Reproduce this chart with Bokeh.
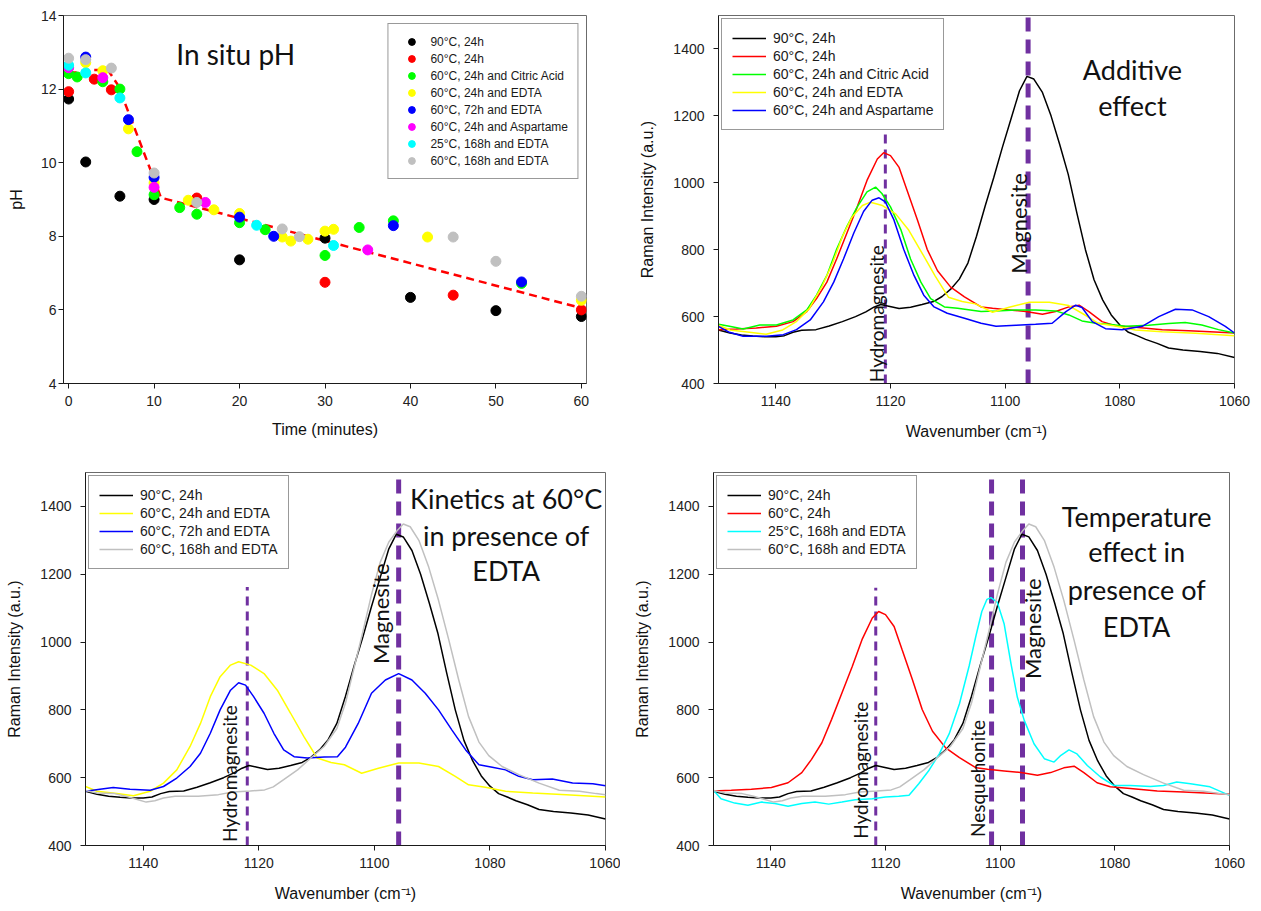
import math
from bokeh.plotting import figure
from bokeh.layouts import column, row
from bokeh.models import Range1d, FixedTicker, Legend, LegendItem, Label
from bokeh.embed import file_html
from bokeh.resources import INLINE

AXIS_FONT = "Liberation Sans"
ANNOT_FONT = "Lato"
PURPLE = "#7030A0"

# ---------------- in situ pH data ----------------
PH_NAMES = ["90°C, 24h", "60°C, 24h", "60°C, 24h and Citric Acid", "60°C, 24h and EDTA",
            "60°C, 72h and EDTA", "60°C, 24h and Aspartame", "25°C, 168h and EDTA",
            "60°C, 168h and EDTA"]
PH_COLORS = ["#000000", "#FF0000", "#00FF00", "#FFFF00", "#0000FF", "#FF00FF", "#00FFFF", "#C0C0C0"]

T_90C_24H = [0, 2, 6, 10, 20, 30, 40, 50, 60]
PH_90C_24H = [11.73, 10.02, 9.09, 9.0, 7.36, 7.95, 6.34, 5.98, 5.82]
T_60C_24H = [0, 3, 5, 15, 30, 45, 60]
PH_60C_24H = [11.93, 12.27, 11.98, 9.04, 6.75, 6.4, 6.0]
T_CITRIC = [0, 1, 4, 6, 8, 10, 13, 15, 20, 23, 30, 34, 38, 53]
PH_CITRIC = [12.42, 12.33, 12.2, 12.0, 10.3, 9.13, 8.78, 8.6, 8.37, 8.18, 7.48, 8.24, 8.42, 6.72]
T_EDTA_24H = [0, 2, 4, 7, 10, 14, 17, 20, 25, 26, 28, 30, 31, 42, 60]
PH_EDTA_24H = [12.6, 12.72, 12.5, 10.92, 9.45, 8.98, 8.72, 8.62, 7.98, 7.87, 7.92, 8.14, 8.19, 7.98, 6.26]
T_EDTA_72H = [2, 7, 10, 20, 24, 38, 53]
PH_EDTA_72H = [12.87, 11.17, 9.6, 8.52, 8.0, 8.29, 6.76]
T_ASPARTAME = [0, 4, 10, 16, 35]
PH_ASPARTAME = [12.58, 12.31, 9.33, 8.92, 7.63]
T_25C_168H = [0, 2, 6, 22, 31]
PH_25C_168H = [12.65, 12.44, 11.76, 8.3, 7.75]
T_60C_168H = [0, 2, 5, 10, 15, 25, 27, 45, 50, 60]
PH_60C_168H = [12.84, 12.8, 12.57, 9.72, 8.92, 8.2, 7.99, 7.98, 7.32, 6.37]

FIT_T = [0, 1, 2, 4.6, 5.8, 10, 10.8, 60]
FIT_PH = [12.45, 12.45, 12.52, 12.52, 12.1, 9.55, 9.05, 6.05]

PH_XTICKS = [0, 10, 20, 30, 40, 50, 60]
PH_YTICKS = [4, 6, 8, 10, 12, 14]

# ---------------- Raman spectra ----------------
W_90C = [1150, 1148, 1146, 1144, 1142, 1140, 1138.5, 1137, 1135.5, 1133, 1130.7, 1128.4, 1126.1,
         1124.3, 1122.9, 1121.7, 1120.3, 1118.5, 1116.5, 1114.5, 1112.5, 1111, 1109.5, 1108, 1106.5,
         1105, 1103.5, 1102, 1100.5, 1099, 1097.5, 1096.2, 1095, 1093.5, 1092, 1090.5, 1089, 1087.5,
         1086, 1084.5, 1083, 1081.5, 1080, 1078.5, 1077, 1075.5, 1073.5, 1071.5, 1069, 1066, 1063, 1060]
I_90C = [560, 551, 545, 542, 540, 540, 543, 553, 559, 561, 572, 585, 600,
         614, 628, 636, 631, 624, 628, 636, 645, 660, 682, 712, 760,
         840, 930, 1015, 1105, 1190, 1275, 1318, 1310, 1270, 1200, 1115, 1025, 910,
         800, 710, 650, 605, 575, 553, 543, 532, 520, 506, 500, 496, 490, 478]

W_60C = [1150, 1146.9, 1143.4, 1139.9, 1137, 1134.6, 1132.9, 1131.1, 1129.4, 1127.6, 1125.8, 1124.1,
         1122.3, 1121.2, 1120, 1118.5, 1117.1, 1115.3, 1113.6, 1111.8, 1109.5, 1107.1, 1104.2, 1102.2,
         1099.3, 1096.4, 1093.5, 1091.2, 1088.9, 1087.1, 1085.4, 1083.1, 1080.8, 1077.3, 1072.6, 1068,
         1063.4, 1060]
I_60C = [561, 563, 566, 571, 585, 615, 654, 703, 772, 850, 928, 1007,
         1071, 1090, 1081, 1046, 977, 889, 801, 737, 688, 659, 629, 625,
         620, 615, 607, 615, 629, 634, 615, 585, 573, 568, 561, 558,
         554, 551]

W_CITRIC = [1150, 1148.1, 1145.7, 1142.8, 1139.9, 1137, 1134.6, 1132.9, 1131.1, 1129.4, 1127.6, 1125.8,
            1124.1, 1122.6, 1121.5, 1120, 1118.2, 1116.5, 1114.7, 1113, 1110.6, 1108.3, 1104.2, 1101.6,
            1098.1, 1094.7, 1091.2, 1088.9, 1086.6, 1084.2, 1081.9, 1079, 1075, 1071.5, 1068.6, 1065.7,
            1062.8, 1060]
I_CITRIC = [577, 571, 563, 575, 575, 590, 620, 664, 723, 801, 870, 928,
            973, 987, 968, 928, 860, 772, 703, 654, 629, 625, 615, 617,
            620, 620, 617, 605, 587, 580, 577, 571, 574, 579, 582, 575,
            561, 551]

W_EDTA24 = [1150, 1148, 1144.6, 1141.7, 1138.8, 1136.5, 1134.2, 1131.9, 1130.1, 1128.4, 1126.7, 1124.9,
            1123.5, 1121.4, 1119.1, 1116.8, 1114.5, 1112.2, 1109.9, 1107.5, 1105.2, 1102.2, 1099.3,
            1095.8, 1092.3, 1088.9, 1086, 1083.7, 1080.8, 1077.3, 1072.6, 1066.8, 1060]
I_EDTA24 = [574, 560, 553, 547, 560, 584, 623, 692, 760, 839, 898, 932,
            942, 932, 907, 858, 790, 721, 658, 645, 638, 613, 628,
            643, 643, 633, 604, 579, 572, 560, 555, 550, 543]

W_ASP = [1150, 1148.1, 1145.7, 1141.6, 1138.7, 1136.4, 1134, 1131.7, 1129.9, 1128.2, 1126.4, 1124.7,
         1123.2, 1122, 1120.9, 1119.4, 1117.7, 1115.9, 1114.2, 1112.4, 1110.1, 1107.1, 1104.2, 1101.6,
         1098.1, 1094.7, 1091.8, 1089.4, 1087.7, 1086.6, 1084.8, 1082.5, 1079.6, 1076.1, 1073.2, 1070.3,
         1067.4, 1064.5, 1061.6, 1060]
I_ASP = [571, 553, 541, 541, 546, 561, 590, 644, 703, 772, 850, 914,
         948, 955, 943, 889, 801, 723, 664, 629, 610, 595, 580, 571,
         574, 577, 580, 615, 634, 627, 585, 564, 561, 571, 600, 622,
         620, 600, 571, 551]

W_EDTA72 = [1150, 1147.5, 1145.2, 1142.3, 1138.8, 1136.5, 1134.2, 1131.9, 1130.1, 1128.4, 1126.7, 1124.9,
            1123.5, 1122.3, 1120.9, 1119.1, 1117.4, 1115.7, 1113.9, 1111.6, 1108.7, 1106.4, 1105, 1102.8,
            1100.5, 1098.1, 1095.8, 1093.5, 1091.2, 1088.9, 1086.6, 1084.2, 1081.9, 1079.6, 1077.3, 1075,
            1072.6, 1069.2, 1065.7, 1062.2, 1060]
I_EDTA72 = [560, 566, 571, 566, 563, 574, 599, 633, 672, 731, 800, 858,
            880, 873, 839, 790, 731, 682, 662, 658, 661, 662, 690, 760,
            849, 888, 907, 888, 849, 800, 741, 682, 638, 631, 623, 604,
            594, 596, 584, 582, 576]

W_EDTA168 = [1150, 1148, 1145, 1143, 1141.5, 1139.5, 1138, 1136.5, 1134.5, 1130.5, 1127, 1124.5,
             1121.5, 1119, 1117.5, 1115.7, 1113.3, 1111, 1108.7, 1106.5, 1105, 1103.5, 1102, 1100.5,
             1099, 1097.5, 1096, 1095, 1093.8, 1092.3, 1090.6, 1088.9, 1087.1, 1085.4, 1083.7, 1081.9,
             1080.2, 1077.9, 1075, 1071.5, 1068, 1064.5, 1061.6, 1060]
I_EDTA168 = [562, 555, 553, 545, 538, 528, 532, 540, 545, 545, 550, 558,
             561, 564, 573, 594, 623, 658, 692, 745, 820, 925, 1030, 1140,
             1235, 1295, 1330, 1348, 1340, 1300, 1221, 1123, 1005, 888, 780, 705,
             665, 633, 609, 584, 563, 560, 553, 550]

W_25C = [1150, 1148.7, 1146.3, 1144, 1141.6, 1139.3, 1137, 1134.6, 1132.3, 1129.9, 1127.6, 1125.3,
         1122.3, 1120, 1117.7, 1115.9, 1114.2, 1112.4, 1110.6, 1108.9, 1107.1, 1105.4, 1104.2, 1103.2,
         1102.3, 1101.6, 1100.5, 1099.3, 1098.1, 1097, 1095.8, 1094.1, 1092.3, 1090.6, 1089.4, 1088,
         1086.6, 1084.8, 1082.5, 1080.2, 1077.3, 1073.8, 1071.5, 1069.2, 1066.8, 1063.4, 1060]
I_25C = [563, 538, 525, 519, 528, 524, 516, 524, 528, 522, 528, 535,
         538, 543, 545, 548, 582, 622, 671, 729, 818, 930, 1020, 1090,
         1126, 1131, 1117, 1053, 935, 837, 769, 700, 656, 646, 666, 682,
         670, 636, 602, 577, 577, 574, 577, 587, 582, 573, 548]

RAMAN_XTICKS = [1140, 1120, 1100, 1080, 1060]
RAMAN_YTICKS = [400, 600, 800, 1000, 1200, 1400]

# reference band positions (cm-1) and their drawn extent
P2_BAND_WN = [1120.9, 1096.0]
P2_BAND_TOP = [1470, 1500]
P3_BAND_WN = [1122.0, 1095.8]
P3_BAND_TOP = [1162, 1500]
P4_BAND_WN = [1121.7, 1101.5, 1096.1]
P4_BAND_TOP = [1160, 1500, 1500]


def make_fig(width, height, bl, br, bt, bb, xr, yr):
    p = figure(width=width, height=height, x_range=xr, y_range=yr, title=None,
               output_backend="svg", toolbar_location=None,
               min_border_left=bl, min_border_right=br, min_border_top=bt, min_border_bottom=bb)
    p.xgrid.visible = False
    p.ygrid.visible = False
    p.outline_line_color = "#6b6b6b"
    p.outline_line_width = 1
    p.background_fill_color = "white"
    p.border_fill_color = "white"
    return p


def style_axes(p, xlabel, ylabel, xls, xts, yls, yts):
    p.xaxis[0].axis_label = xlabel
    p.yaxis[0].axis_label = ylabel
    for ax in (p.xaxis[0], p.yaxis[0]):
        ax.axis_line_color = "#1a1a1a"
        ax.axis_line_width = 1
        ax.major_tick_line_color = "#1a1a1a"
        ax.major_tick_out = 5
        ax.major_tick_in = 0
        ax.minor_tick_line_color = None
        ax.major_label_text_font = AXIS_FONT
        ax.major_label_text_font_size = "14px"
        ax.major_label_text_color = "#222222"
        ax.axis_label_text_font = AXIS_FONT
        ax.axis_label_text_font_size = "16px"
        ax.axis_label_text_font_style = "normal"
        ax.axis_label_text_color = "#111111"
    p.xaxis[0].major_label_standoff = xls
    p.xaxis[0].axis_label_standoff = xts
    p.yaxis[0].major_label_standoff = yls
    p.yaxis[0].axis_label_standoff = yts


def add_legend(p, items, location, font_px, glyph_w, glyph_h, spacing, padding, standoff, margin):
    lg = Legend(items=items, location=location)
    lg.label_text_font = AXIS_FONT
    lg.label_text_font_size = f"{font_px}px"
    lg.label_text_color = "#1a1a1a"
    lg.glyph_width = glyph_w
    lg.glyph_height = glyph_h
    lg.label_height = glyph_h
    lg.label_standoff = standoff
    lg.spacing = spacing
    lg.padding = padding
    lg.margin = margin
    lg.border_line_color = "#333333"
    lg.border_line_width = 1
    lg.background_fill_color = "white"
    lg.background_fill_alpha = 1.0
    p.add_layout(lg)


# ---------------- Panel 1: in situ pH ----------------
p1 = make_fig(620, 450, 63, 34, 15, 64, Range1d(-0.6, 60.6), Range1d(4, 14))
p1.xaxis[0].ticker = FixedTicker(ticks=PH_XTICKS)
p1.yaxis[0].ticker = FixedTicker(ticks=PH_YTICKS)
style_axes(p1, "Time (minutes)", "pH", 7, 12, 2, 13)
p1.line(FIT_T, FIT_PH, line_color="#FF0000", line_width=2.5, line_dash="8 5")
ph_t = [T_90C_24H, T_60C_24H, T_CITRIC, T_EDTA_24H, T_EDTA_72H, T_ASPARTAME, T_25C_168H, T_60C_168H]
ph_v = [PH_90C_24H, PH_60C_24H, PH_CITRIC, PH_EDTA_24H, PH_EDTA_72H, PH_ASPARTAME, PH_25C_168H, PH_60C_168H]
items = []
for name, color, t, v in zip(PH_NAMES, PH_COLORS, ph_t, ph_v):
    r = p1.scatter(t, v, size=10, marker="circle", fill_color=color, line_color=color)
    items.append(LegendItem(label=name, renderers=[r]))
add_legend(p1, items, "top_right", 12, 28, 17, 0, 9, 5, 8)
p1.add_layout(Label(x=12.6, y=12.5, text="In situ pH", text_font=ANNOT_FONT,
                    text_font_size="28px", text_color="#111111", text_align="left"))


def raman_fig(width, height, bl, br, bt, bb):
    p = make_fig(width, height, bl, br, bt, bb, Range1d(1150, 1060), Range1d(400, 1500))
    p.xaxis[0].ticker = FixedTicker(ticks=RAMAN_XTICKS)
    p.yaxis[0].ticker = FixedTicker(ticks=RAMAN_YTICKS)
    style_axes(p, "Wavenumber (cm\u207b\u00b9)", "Raman Intensity (a.u.)", 7, 14, 9, 14)
    return p


def draw_curves(p, curves):
    items = []
    for name, color, w, i in curves:
        r = p.line(w, i, line_color=color, line_width=1.5)
        items.append(LegendItem(label=name, renderers=[r]))
    add_legend(p, items, "top_left", 14, 34, 18, 0, 10, 7, 3)


def draw_bands(p, wn, top, thick):
    for x, t, th in zip(wn, top, thick):
        if th:
            p.segment(x0=[x], y0=[400], x1=[x], y1=[t], line_color=PURPLE, line_width=5, line_dash="14 8")
        else:
            p.segment(x0=[x], y0=[400], x1=[x], y1=[t], line_color=PURPLE, line_width=3, line_dash="9 6")


def band_label(p, text, x, y, size):
    p.add_layout(Label(x=x, y=y, text=text, angle=math.pi / 2, text_align="left",
                       text_baseline="middle", text_font=ANNOT_FONT, text_font_size=f"{size}px",
                       text_color="#111111"))


def title_lines(p, lines, x, ys):
    for t, y in zip(lines, ys):
        p.add_layout(Label(x=x, y=y, text=t, text_align="center", text_baseline="alphabetic",
                           text_font=ANNOT_FONT, text_font_size="27px", text_color="#111111"))


# ---------------- Panel 2: additive effect ----------------
p2 = raman_fig(640, 450, 98, 26, 10, 67)
draw_bands(p2, P2_BAND_WN, P2_BAND_TOP, [False, True])
draw_curves(p2, [
    ("90°C, 24h", "#000000", W_90C, I_90C),
    ("60°C, 24h", "#FF0000", W_60C, I_60C),
    ("60°C, 24h and Citric Acid", "#00FF00", W_CITRIC, I_CITRIC),
    ("60°C, 24h and EDTA", "#FFFF00", W_EDTA24, I_EDTA24),
    ("60°C, 24h and Aspartame", "#0000FF", W_ASP, I_ASP),
])
band_label(p2, "Hydromagnesite", 1122.5, 404, 19)
band_label(p2, "Magnesite", 1097.7, 728, 22)
title_lines(p2, ["Additive", "effect"], 1077.8, [1338, 1230])

# ---------------- Panel 3: kinetics at 60°C ----------------
p3 = raman_fig(620, 459, 85, 15, 22, 63)
draw_bands(p3, P3_BAND_WN, P3_BAND_TOP, [False, True])
draw_curves(p3, [
    ("90°C, 24h", "#000000", W_90C, I_90C),
    ("60°C, 24h and EDTA", "#FFFF00", W_EDTA24, I_EDTA24),
    ("60°C, 72h and EDTA", "#0000FF", W_EDTA72, I_EDTA72),
    ("60°C, 168h and EDTA", "#C0C0C0", W_EDTA168, I_EDTA168),
])
band_label(p3, "Hydromagnesite", 1125.0, 410, 19)
band_label(p3, "Magnesite", 1098.9, 935, 22)
title_lines(p3, ["Kinetics at 60°C", "in presence of", "EDTA"], 1077.2, [1422, 1315, 1211])

# ---------------- Panel 4: temperature effect ----------------
p4 = raman_fig(640, 459, 93, 31, 21, 64)
draw_bands(p4, P4_BAND_WN, P4_BAND_TOP, [False, True, True])
draw_curves(p4, [
    ("90°C, 24h", "#000000", W_90C, I_90C),
    ("60°C, 24h", "#FF0000", W_60C, I_60C),
    ("25°C, 168h and EDTA", "#00FFFF", W_25C, I_25C),
    ("60°C, 168h and EDTA", "#C0C0C0", W_EDTA168, I_EDTA168),
])
band_label(p4, "Hydromagnesite", 1124.3, 420, 19)
band_label(p4, "Nesquehonite", 1103.9, 425, 19)
band_label(p4, "Magnesite", 1094.4, 891, 22)
title_lines(p4, ["Temperature", "effect in", "presence of", "EDTA"], 1076.2, [1371, 1266, 1156, 1045])

layout = column(row(p1, p2), row(p3, p4))
open("out.html", "w").write(file_html(layout, INLINE))
